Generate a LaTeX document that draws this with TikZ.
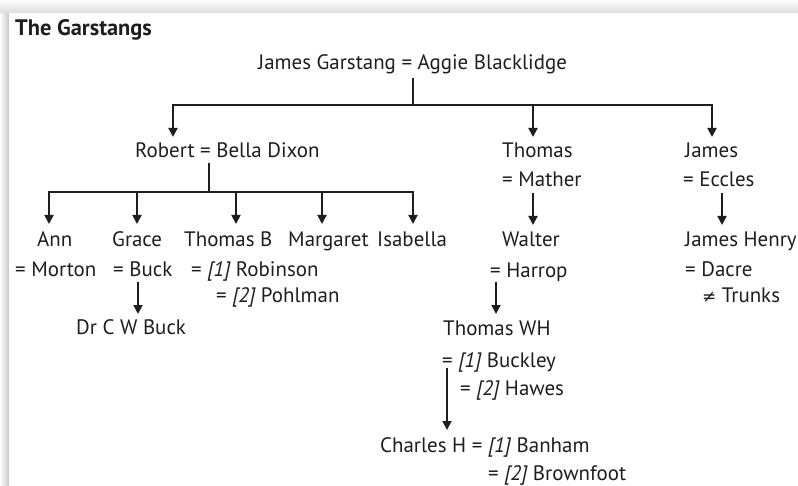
\documentclass[tikz,border=0pt]{standalone}
\usepackage{fontspec}
\setmainfont{PT Sans}
\newfontfamily\symf{DejaVu Sans}
\usetikzlibrary{arrows.meta}
\definecolor{ink}{HTML}{1E1E1E}
\tikzset{
  txt/.style={anchor=base west, inner sep=0pt, font=\fontsize{21}{25}\selectfont, text=ink},
  ttl/.style={txt, font=\bfseries\fontsize{22.5}{26}\selectfont},
  line/.style={draw=ink, line width=1.8bp},
  arr/.style={line, -{Triangle[width=9bp,length=9bp]}},
}
\newcommand{\ix}[1]{{\itshape #1}}
\begin{document}
\begin{tikzpicture}[x=1bp,y=-1bp]
\useasboundingbox (0,0) rectangle (798,486);
\shade[left color=white, right color=black!22] (0,0) rectangle (9,486);
\shade[top color=white, bottom color=black!14] (0,0) rectangle (798,13);
\fill[white] (9,13) rectangle (798,486);

% texts
\node[ttl] (title) at (15,36) {The Garstangs};
\node[txt] (jg) at (258,70) {James Garstang = Aggie Blacklidge};
\node[txt] (robert) at (135,158) {Robert = Bella Dixon};
\node[txt] (thomas) at (502,158) {Thomas};
\node[txt] (james) at (685,158) {James};
\node[txt] (mather) at (502,187) {= Mather};
\node[txt] (eccles) at (683,187) {= Eccles};
\node[txt] (ann) at (37,247) {Ann};
\node[txt] (grace) at (112,247) {Grace};
\node[txt] (thomasb) at (184,247) {Thomas B};
\node[txt] (margaret) at (288,247) {Margaret};
\node[txt] (isabella) at (377,247) {Isabella};
\node[txt] (walter) at (502,247) {Walter};
\node[txt] (jhenry) at (685,247) {James Henry};
\node[txt] (morton) at (15,277) {= Morton};
\node[txt] (buck) at (113,277) {= Buck};
\node[txt] (robinson) at (191,277) {= \ix{[1]} Robinson};
\node[txt] (harrop) at (490,278) {= Harrop};
\node[txt] (dacre) at (685,277) {= Dacre};
\node[txt] (pohlman) at (216,303) {= \ix{[2]} Pohlman};
\node[txt] (trunks) at (702,303) {{\symf\fontsize{17}{20}\selectfont ≠} Trunks};
\node[txt] (drbuck) at (76,334) {Dr C W Buck};
\node[txt] (twh) at (443,335) {Thomas WH};
\node[txt] (buckley) at (442,367) {= \ix{[1]} Buckley};
\node[txt] (hawes) at (460,395) {= \ix{[2]} Hawes};
\node[txt] (charles) at (380,452) {Charles H = \ix{[1]} Banham};
\node[txt] (brownfoot) at (488,480) {= \ix{[2]} Brownfoot};

% connector points
\coordinate (jgd) at (413,78);
\coordinate (jgb) at (413,105);
\coordinate (tRobert) at (173,137);
\coordinate (tThomas) at (533,137);
\coordinate (tJames) at (712,137);
\coordinate (rbd) at (209,163);
\coordinate (rbb) at (209,192);
\coordinate (tAnn) at (49,224);
\coordinate (tGrace) at (137,224);
\coordinate (tThomasB) at (236,224);
\coordinate (tMargaret) at (322,224);
\coordinate (tIsabella) at (413,224);
\coordinate (mtd) at (533,193);
\coordinate (tWalter) at (533,225);
\coordinate (ecd) at (722,193);
\coordinate (tJHenry) at (722,225);
\coordinate (bkd) at (138,282);
\coordinate (tDrBuck) at (138,314);
\coordinate (hrd) at (496,282);
\coordinate (tTWH) at (496,314);
\coordinate (byd) at (447,368);
\coordinate (tCharles) at (447,430);

% connectors
\draw[line] (jgd) -- (jgb);
\draw[arr] (jgb) -| (tRobert);
\draw[arr] (jgb) -| (tJames);
\draw[arr] (jgb -| tThomas) -- (tThomas);
\draw[line] (rbd) -- (rbb);
\draw[arr] (rbb) -| (tAnn);
\draw[arr] (rbb) -| (tIsabella);
\draw[arr] (rbb -| tGrace) -- (tGrace);
\draw[arr] (rbb -| tThomasB) -- (tThomasB);
\draw[arr] (rbb -| tMargaret) -- (tMargaret);
\draw[arr] (mtd) -- (tWalter);
\draw[arr] (ecd) -- (tJHenry);
\draw[arr] (bkd) -- (tDrBuck);
\draw[arr] (hrd) -- (tTWH);
\draw[arr] (byd) -- (tCharles);
\end{tikzpicture}
\end{document}
